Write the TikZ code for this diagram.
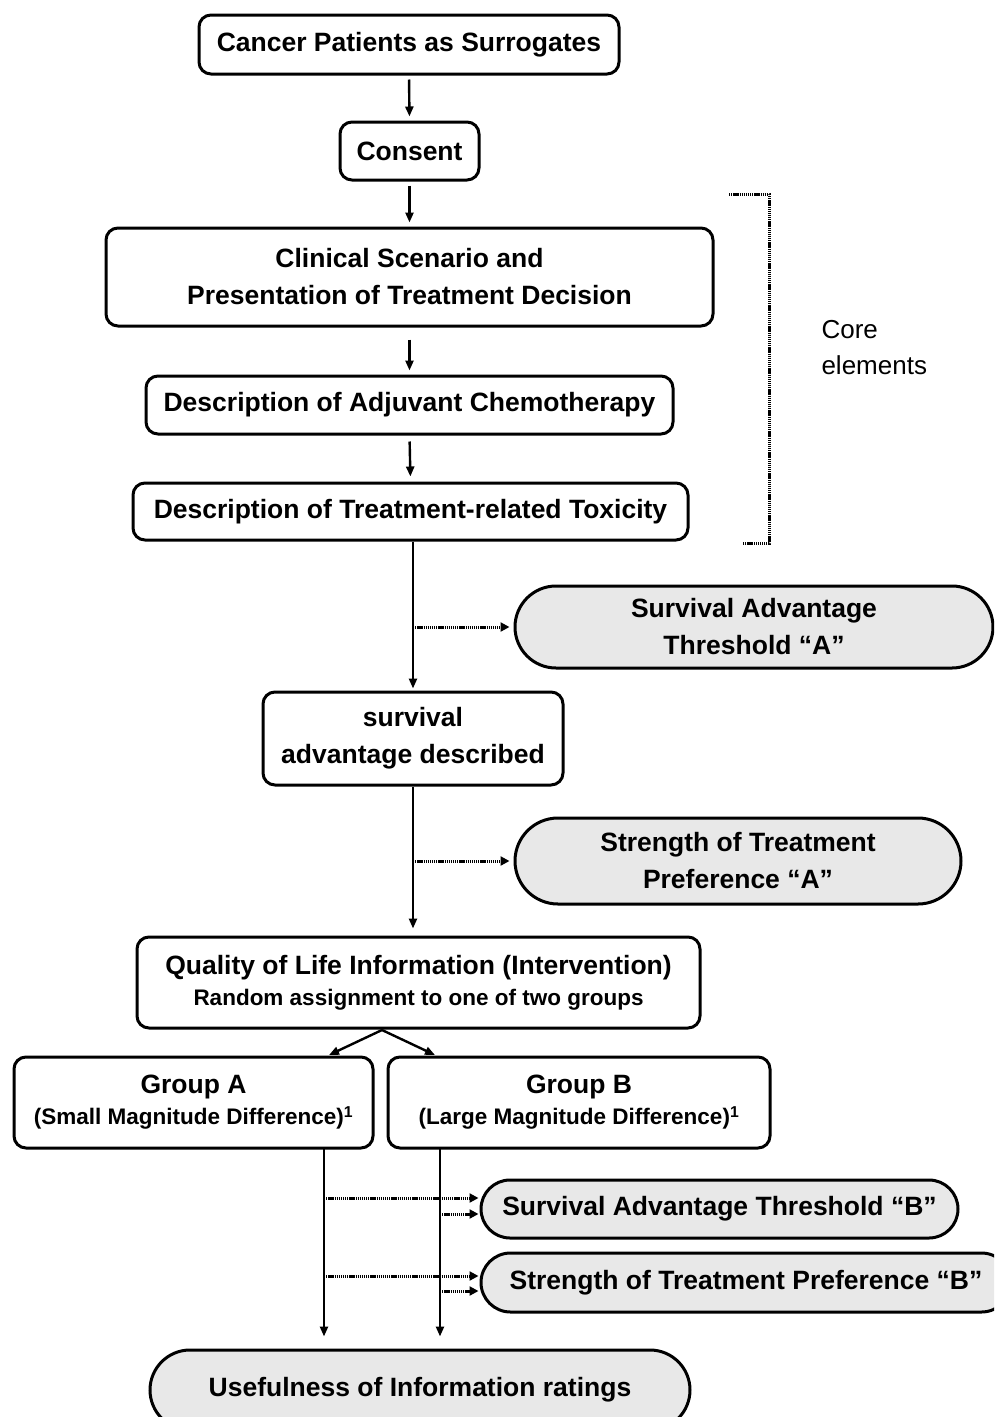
\documentclass[tikz,border=0pt]{standalone}
\usepackage{fontspec}
\setmainfont{Liberation Sans}
\usetikzlibrary{arrows.meta,shapes.misc}
\definecolor{pillgray}{RGB}{232,232,232}
\newcommand{\bigtxt}{\fontsize{26.5}{37}\selectfont}
\newcommand{\subtxt}{\fontsize{22.5}{27}\selectfont}
\begin{document}
\begin{tikzpicture}[x=1pt,y=-1pt,
  box/.style={draw, line width=3pt, rounded corners=12pt, inner sep=0pt,
    align=center, font=\bfseries\bigtxt},
  pill/.style={rounded rectangle, draw, line width=3pt, fill=pillgray,
    inner sep=0pt, align=center, font=\bfseries\bigtxt},
  arr/.style={line width=2.4pt, -{Triangle[length=10pt,width=8pt]}},
  dotarr/.style={line width=3pt, dash pattern=on 1.3pt off 0.8pt,
    -{Triangle[length=9pt,width=9pt]}},
  bracket/.style={line width=3pt, dash pattern=on 1.3pt off 0.8pt},
]
\useasboundingbox (0,0) rectangle (994,1417);
\clip (0,0) rectangle (994,1417);

% main column
\node[box, minimum width=420, minimum height=59] (cancer) at (409,44.5) {Cancer Patients as Surrogates};
\node[box, minimum width=139, minimum height=58] (consent) at (409.5,151) {Consent};
\node[box, minimum width=607, minimum height=98] (clinical) at (409.5,277) {Clinical Scenario and\\Presentation of Treatment Decision};
\node[box, minimum width=527, minimum height=58] (adjuvant) at (409.5,405) {Description of Adjuvant Chemotherapy};
\node[box, minimum width=555, minimum height=57] (toxicity) at (410.5,511.5) {Description of Treatment-related Toxicity};
\node[box, minimum width=300, minimum height=93] (described) at (413,738.5) {survival\\advantage described};
\node[box, minimum width=563, minimum height=91] (qol) at (418.5,982.5) {Quality of Life Information (Intervention)\\[-6pt]{\subtxt Random assignment to one of two groups}};
\node[box, minimum width=359, minimum height=91] (grpA) at (193.5,1102.5) {Group A\\[-6pt]{\subtxt (Small Magnitude Difference)\textsuperscript{1}}};
\node[box, minimum width=382, minimum height=91] (grpB) at (579,1102.5) {Group B\\[-6pt]{\subtxt (Large Magnitude Difference)\textsuperscript{1}}};

% outcome measures
\node[pill, minimum width=478, minimum height=82] (satA) at (754,627) {Survival Advantage\\Threshold “A”};
\node[pill, minimum width=446, minimum height=86] (sptA) at (738,861) {Strength of Treatment\\Preference “A”};
\node[pill, minimum width=477, minimum height=58] (satB) at (719.5,1209) {Survival Advantage Threshold “B”};
\node[pill, minimum width=530, minimum height=59] (sptB) at (746,1282.5) {Strength of Treatment Preference “B”};
\node[pill, minimum width=540, minimum height=80] (useful) at (420,1390) {Usefulness of Information ratings};

% bracket of the core elements
\draw[bracket] (729,194) -- (769,194) -- (769,543) -- (743,543);
\node[anchor=west, align=left, font=\fontsize{26}{36}\selectfont] (core) at (818,348) {Core\\elements};

% flow
\draw[arr, shorten <=4pt, shorten >=4pt] (cancer.south) -- (consent.north);
\draw[arr, shorten <=4pt, shorten >=4pt] (consent.south) -- (clinical.north);
\draw[arr, shorten <=12pt, shorten >=4pt] (clinical.south) -- (adjuvant.north);
\draw[arr, shorten <=6pt, shorten >=5pt] (adjuvant.south) -- (toxicity.north);
\draw[arr, shorten >=2pt] (toxicity.south -| described.north) -- (described.north);
\draw[arr, shorten >=7pt] (described.south) -- (described.south |- qol.north);

\coordinate (tapA) at (described.north |- satA.west);
\coordinate (tapB) at (described.south |- sptA.west);
\draw[dotarr, shorten >=4pt] (tapA) -- (satA.west);
\draw[dotarr, shorten >=4pt] (tapB) -- (sptA.west);

% randomisation fork
\coordinate (fork) at (382,1030);
\coordinate (forkA) at (329,1055);
\coordinate (forkB) at (435,1055);
\draw[arr] (fork) -- (forkA);
\draw[arr] (fork) -- (forkB);

% group branches
\coordinate (lineA) at (324,1148);
\coordinate (lineB) at (440,1148);
\draw[arr, shorten >=12pt] (lineA) -- (lineA |- useful.north);
\draw[arr, shorten >=12pt] (lineB) -- (lineB |- useful.north);

\draw[dotarr, shorten >=1pt] (lineA |- 0,1198) -- (satB.west |- 0,1198);
\draw[dotarr, shorten >=1pt] (lineB |- 0,1214) -- (satB.west |- 0,1214);
\draw[dotarr, shorten >=1pt] (lineA |- 0,1276) -- (sptB.west |- 0,1276);
\draw[dotarr, shorten >=1pt] (lineB |- 0,1291) -- (sptB.west |- 0,1291);
\end{tikzpicture}
\end{document}
